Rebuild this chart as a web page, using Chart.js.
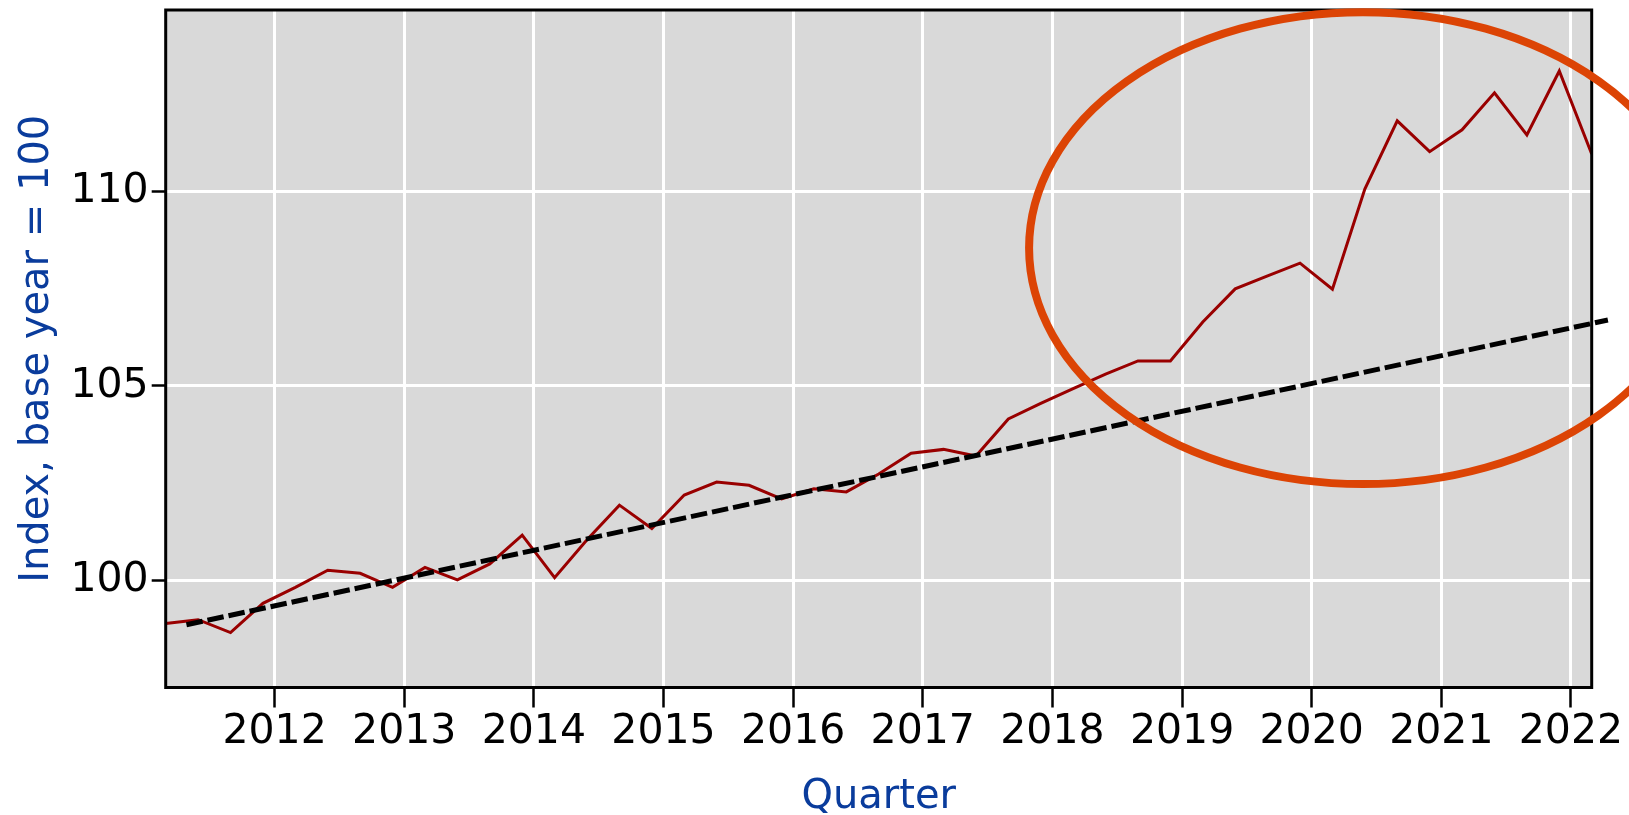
<!DOCTYPE html>
<html>
<head>
<meta charset="utf-8">
<script src="https://cdn.jsdelivr.net/npm/chart.js@4.4.0/dist/chart.umd.min.js"></script>
<style>
  html, body { margin: 0; padding: 0; background: #fff; }
  #wrap { width: 1629px; height: 815px; }
</style>
</head>
<body>
<div id="wrap"><canvas id="myChart"></canvas></div>
<script>
// quarterly index, base year = 100
var quarters = [
  '2011Q1', '2011Q2', '2011Q3', '2011Q4',
  '2012Q1', '2012Q2', '2012Q3', '2012Q4',
  '2013Q1', '2013Q2', '2013Q3', '2013Q4',
  '2014Q1', '2014Q2', '2014Q3', '2014Q4',
  '2015Q1', '2015Q2', '2015Q3', '2015Q4',
  '2016Q1', '2016Q2', '2016Q3', '2016Q4',
  '2017Q1', '2017Q2', '2017Q3', '2017Q4',
  '2018Q1', '2018Q2', '2018Q3', '2018Q4',
  '2019Q1', '2019Q2', '2019Q3', '2019Q4',
  '2020Q1', '2020Q2', '2020Q3', '2020Q4',
  '2021Q1', '2021Q2', '2021Q3', '2021Q4',
  '2022Q1'
];
var indexValues = [
  98.9, 99.0, 98.67, 99.42,
  99.83, 100.27, 100.19, 99.83,
  100.34, 100.02, 100.43, 101.17,
  100.08, 101.05, 101.94, 101.34,
  102.2, 102.53, 102.45, 102.1,
  102.36, 102.28, 102.74, 103.27,
  103.37, 103.2, 104.15, 104.55,
  104.93, 105.3, 105.64, 105.64,
  106.64, 107.49, 107.82, 108.15,
  107.48, 110.05, 111.8, 111.01,
  111.57, 112.52, 111.44, 113.08,
  110.95
];
var yearTicks = [2012, 2013, 2014, 2015, 2016, 2017, 2018, 2019, 2020, 2021, 2022];
var indexTicks = [100, 105, 110];

// linear trend (dashed), start and end
var trendX = [2011.32, 2022.285];
var trendY = [98.87, 106.69];

// highlighted region (ellipse) in data units
var highlight = { xMin: 2017.82, xMax: 2022.97, yMin: 102.48, yMax: 114.59 };

function quarterPos(q) {
  var yr = parseInt(q.slice(0, 4), 10);
  var n = parseInt(q.slice(5), 10);
  return yr + 0.16 + (n - 1) * 0.25;
}

var seriesPoints = quarters.map(function (q, i) {
  return { x: quarterPos(q), y: indexValues[i] };
});
var trendPoints = trendX.map(function (x, i) {
  return { x: x, y: trendY[i] };
});

var font = 'DejaVu Sans';
var titleBlue = '#0a3c9c';

var plotBackground = {
  id: 'plotBackground',
  beforeDraw: function (chart) {
    var a = chart.chartArea, ctx = chart.ctx;
    ctx.save();
    ctx.fillStyle = '#d9d9d9';
    ctx.fillRect(a.left, a.top, a.right - a.left, a.bottom - a.top);
    ctx.restore();
  }
};

var plotFrame = {
  id: 'plotFrame',
  afterDatasetsDraw: function (chart) {
    var a = chart.chartArea, ctx = chart.ctx;
    ctx.save();
    ctx.strokeStyle = '#000';
    ctx.lineWidth = 3;
    ctx.strokeRect(a.left, a.top, a.right - a.left, a.bottom - a.top);
    ctx.restore();
  }
};

var highlightEllipse = {
  id: 'highlightEllipse',
  afterDraw: function (chart) {
    var xs = chart.scales.x, ys = chart.scales.y, ctx = chart.ctx;
    var x0 = xs.getPixelForValue(highlight.xMin), x1 = xs.getPixelForValue(highlight.xMax);
    var y0 = ys.getPixelForValue(highlight.yMax), y1 = ys.getPixelForValue(highlight.yMin);
    ctx.save();
    ctx.beginPath();
    ctx.ellipse((x0 + x1) / 2, (y0 + y1) / 2, (x1 - x0) / 2, (y1 - y0) / 2, 0, 0, Math.PI * 2);
    ctx.strokeStyle = '#dc4405';
    ctx.lineWidth = 8;
    ctx.stroke();
    ctx.restore();
  }
};

var ctx = document.getElementById('myChart').getContext('2d');

var indexChart = new Chart(ctx, {
  type: 'line',
  data: {
    datasets: [{
      label: 'Trend',
      data: trendPoints,
      borderColor: '#000',
      borderWidth: 5,
      borderDash: [16.5, 5],
      pointRadius: 0,
      fill: false,
      clip: false
    }, {
      label: 'Index',
      data: seriesPoints,
      borderColor: '#990000',
      borderWidth: 3,
      pointRadius: 0,
      tension: 0,
      fill: false
    }]
  },
  options: {
    animation: false,
    responsive: true,
    maintainAspectRatio: false,
    layout: {
      padding: { top: 10, right: 37.3, bottom: 0, left: 0 }
    },
    plugins: {
      legend: { display: false },
      tooltip: { enabled: false }
    },
    scales: {
      x: {
        type: 'linear',
        min: quarterPos(quarters[0]),
        max: quarterPos(quarters[quarters.length - 1]),
        afterBuildTicks: function (axis) {
          axis.ticks = yearTicks.map(function (v) { return { value: v }; });
        },
        afterFit: function (axis) {
          axis.height = 127.5;
          axis.paddingLeft = 0;
          axis.paddingRight = 0;
        },
        border: { display: false },
        grid: {
          color: '#ffffff',
          lineWidth: 3,
          tickColor: '#000',
          tickWidth: 2.5,
          tickLength: 20
        },
        ticks: {
          color: '#000',
          font: { family: font, size: 41 },
          padding: 0,
          maxRotation: 0,
          autoSkip: false,
          callback: function (v) { return String(v); }
        },
        title: {
          display: true,
          text: 'Quarter',
          color: titleBlue,
          font: { family: font, size: 40, lineHeight: 0.85 },
          padding: 0
        }
      },
      y: {
        min: 97.26,
        max: 114.645,
        afterBuildTicks: function (axis) {
          axis.ticks = indexTicks.map(function (v) { return { value: v }; });
        },
        afterFit: function (axis) {
          axis.width = 165.7;
          axis.paddingTop = 0;
          axis.paddingBottom = 0;
        },
        border: { display: false },
        grid: {
          color: '#ffffff',
          lineWidth: 3,
          tickColor: '#000',
          tickWidth: 2.5,
          tickLength: 14
        },
        ticks: {
          color: '#000',
          font: { family: font, size: 41 },
          padding: 3,
          callback: function (v) { return String(v); }
        },
        title: {
          display: true,
          text: 'Index, base year = 100',
          color: titleBlue,
          font: { family: font, size: 40 },
          padding: { top: 14, bottom: 0 }
        }
      }
    }
  },
  plugins: [plotBackground, plotFrame, highlightEllipse]
});
</script>
</body>
</html>
